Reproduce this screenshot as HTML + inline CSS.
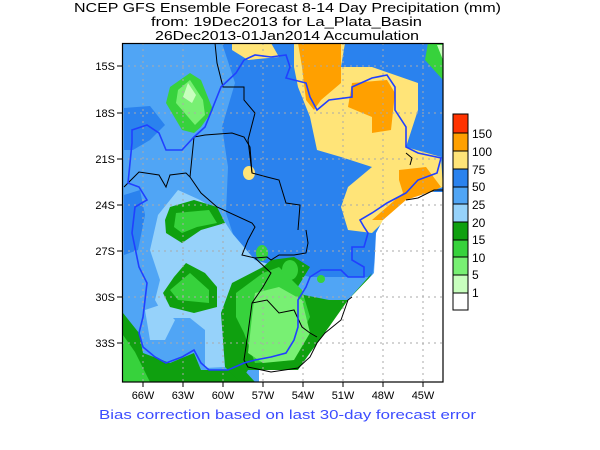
<!DOCTYPE html>
<html><head><style>
body{margin:0;background:#fff;}
svg{display:block;font-family:"Liberation Sans",sans-serif;}
</style></head><body>
<svg width="600" height="450" viewBox="0 0 600 450">
<defs><clipPath id="c"><rect x="122" y="43" width="321" height="339"/></clipPath></defs>
<g font-size="13" fill="#000">
<text x="74" y="12" textLength="427" lengthAdjust="spacingAndGlyphs">NCEP GFS Ensemble Forecast 8-14 Day Precipitation (mm)</text>
<text x="151" y="26" textLength="271" lengthAdjust="spacingAndGlyphs">from: 19Dec2013   for La_Plata_Basin</text>
<text x="155" y="40" textLength="264" lengthAdjust="spacingAndGlyphs">26Dec2013-01Jan2014 Accumulation</text>
</g>
<g clip-path="url(#c)">
<rect x="122" y="43" width="321" height="339" fill="#50a5f5"/>
<polygon fill="#2a82ee" points="222,43 443,43 443,233 376,253 372,277 310,277 271,267 240,255 226,213 228,167 222,127 235,83"/>
<polygon fill="#2a82ee" points="124,108 150,106 165,125 150,140 133,150 124,150"/>
<polygon fill="#2a82ee" points="124,195 140,190 145,215 138,250 124,255"/>
<polygon fill="#ffe478" points="294,43 345,43 341,67 372,67 418,83 418,110 406,147 441,157 443,187 406,200 372,233 348,230 341,207 348,187 372,167 341,157 317,150 310,117 298,87 294,67"/>
<polygon fill="#ffe478" points="232,43 271,43 279,57 248,60 232,50"/>
<ellipse cx="249" cy="173" rx="6" ry="7" fill="#ffe478"/>
<polygon fill="#ffa000" points="298,43 341,43 341,83 321,100 314,110 306,100 302,67"/>
<polygon fill="#ffa000" points="352,83 387,80 395,93 391,130 372,133 372,117 348,107"/>
<polygon fill="#ffa000" points="399,170 426,167 441,187 418,200 383,220 372,220 403,193 399,180"/>
<polygon fill="#96d2fa" points="158,215 178,190 200,200 217,210 232,233 255,260 279,267 271,283 232,287 221,313 225,367 205,368 205,330 190,318 165,318 155,300 160,280 150,250"/>
<polygon fill="#96d2fa" points="145,310 160,305 175,320 165,340 150,340"/>
<polygon fill="#0fa00f" points="123,313 139,333 143,353 170,363 194,353 201,370 244,370 255,382 123,382"/>
<polygon fill="#37d23c" points="123,335 135,352 150,382 123,382"/>
<polygon fill="#0fa00f" points="232,283 263,267 271,260 294,257 310,267 294,293 329,300 348,300 372,273 348,317 329,330 310,353 298,370 248,370 240,382 225,367 221,313"/>
<polygon fill="#37d23c" points="236,293 263,273 279,267 302,290 310,317 302,333 294,360 255,363 244,333 236,317"/>
<polygon fill="#78f073" points="255,293 279,287 302,300 310,333 294,360 263,363 248,353 252,317"/>
<polygon fill="#0fa00f" points="170,207 194,200 217,207 225,223 201,230 182,243 166,233 165,220"/>
<polygon fill="#37d23c" points="176,213 209,210 217,223 197,227 182,233 174,227"/>
<polygon fill="#0fa00f" points="186,263 205,273 217,287 217,307 194,313 170,307 163,293 174,277"/>
<polygon fill="#37d23c" points="190,273 209,290 209,303 178,300 170,290"/>
<polygon fill="#37d23c" points="190,73 201,80 213,110 201,127 194,133 182,130 166,103 170,87"/>
<polygon fill="#78f073" points="190,80 203,100 205,115 195,125 176,103 178,90"/>
<polygon fill="#c8ffbe" points="188,83 196,95 192,103 183,97"/>
<ellipse cx="262" cy="253" rx="6" ry="8" fill="#37d23c"/>
<ellipse cx="290" cy="270" rx="8" ry="10" fill="#37d23c"/>
<circle cx="321" cy="279" r="4" fill="#37d23c"/>
<polygon fill="#37d23c" points="428,43 443,43 443,80 425,60"/>
<polygon fill="#c8ffbe" points="437,45 443,45 443,60"/>
<polygon fill="#fff" points="443,192 430,192 406,200 383,220 376,233 374,273 348,300 329,327 310,353 298,370 259,370 259,382 443,382"/>
<g stroke="#aaa" stroke-dasharray="2,4" stroke-width="1">
<line x1="143" y1="43" x2="143" y2="382"/><line x1="183" y1="43" x2="183" y2="382"/><line x1="223" y1="43" x2="223" y2="382"/><line x1="263" y1="43" x2="263" y2="382"/><line x1="303" y1="43" x2="303" y2="382"/><line x1="343" y1="43" x2="343" y2="382"/><line x1="383" y1="43" x2="383" y2="382"/><line x1="423" y1="43" x2="423" y2="382"/>
<line x1="122" y1="66" x2="443" y2="66"/><line x1="122" y1="113" x2="443" y2="113"/><line x1="122" y1="159" x2="443" y2="159"/><line x1="122" y1="205" x2="443" y2="205"/><line x1="122" y1="251" x2="443" y2="251"/><line x1="122" y1="297" x2="443" y2="297"/><line x1="122" y1="343" x2="443" y2="343"/>
</g>
<g fill="none" stroke="#000" stroke-width="1">
<polyline points="215,43 217,63 223,87 244,87 244,100 255,113 248,140 252,173 267,177 279,180 286,203 300,205 298,230"/>
<polyline points="190,177 194,137 205,135 232,133 244,137 250,147 252,173"/>
<polyline points="124,187 139,172 159,175 166,187 170,175 186,173 190,177"/>
<polyline points="190,177 201,193 217,207 252,223 255,227 248,240 242,255 255,258 267,257 271,260 279,255 294,255 306,253 308,243 306,230"/>
<polyline points="255,258 271,273 263,287 252,303 248,333 244,360 248,367 271,372 298,368 310,357 317,343 325,333 341,320 348,300 352,297"/>
<polyline points="252,303 267,300 279,313 294,310 302,327 310,333 317,337"/>
<polyline points="443,190 434,190 418,198 406,200"/>
<polyline points="406,153 412,158 410,165"/>
</g>
<polyline fill="none" stroke="#2040ff" stroke-width="1.6" points="244,60 255,55 271,57 286,55 290,67 286,78 306,83 310,97 317,110 329,100 352,97 352,87 372,78 387,75 395,87 395,110 406,127 406,147 418,153 441,158 437,173 418,180 406,193 387,203 372,213 360,220 364,227 368,233 364,247 352,247 352,260 364,267 364,277 348,277 341,270 321,270 310,277 306,287 298,300 298,327 294,340 286,353 271,357 255,360 244,363 228,370 209,370 201,363 194,350 182,357 166,363 155,357 143,347 139,333 143,317 147,283 139,267 132,233 135,207 147,200 139,187 128,183 132,143 132,130 147,125 159,133 166,150 182,150 194,137 205,127 213,107 221,87 236,73 244,60"/>
</g>
<rect x="122.5" y="43.5" width="320.5" height="338.5" fill="none" stroke="#000" stroke-width="1.2"/>
<g stroke="#000"><line x1="117" y1="66" x2="122" y2="66"/><line x1="117" y1="113" x2="122" y2="113"/><line x1="117" y1="159" x2="122" y2="159"/><line x1="117" y1="205" x2="122" y2="205"/><line x1="117" y1="251" x2="122" y2="251"/><line x1="117" y1="297" x2="122" y2="297"/><line x1="117" y1="343" x2="122" y2="343"/>
<line x1="143" y1="382" x2="143" y2="387"/><line x1="183" y1="382" x2="183" y2="387"/><line x1="223" y1="382" x2="223" y2="387"/><line x1="263" y1="382" x2="263" y2="387"/><line x1="303" y1="382" x2="303" y2="387"/><line x1="343" y1="382" x2="343" y2="387"/><line x1="383" y1="382" x2="383" y2="387"/><line x1="423" y1="382" x2="423" y2="387"/></g>
<g font-size="11" text-anchor="end"><text x="115" y="70">15S</text><text x="115" y="117">18S</text><text x="115" y="163">21S</text><text x="115" y="209">24S</text><text x="115" y="255">27S</text><text x="115" y="301">30S</text><text x="115" y="347">33S</text></g>
<g font-size="11" text-anchor="middle"><text x="143" y="399">66W</text><text x="183" y="399">63W</text><text x="223" y="399">60W</text><text x="263" y="399">57W</text><text x="303" y="399">54W</text><text x="343" y="399">51W</text><text x="383" y="399">48W</text><text x="423" y="399">45W</text></g>
<g stroke="#000" stroke-width="1">
<rect x="453" y="114" width="15" height="19" fill="#ff3300"/>
<rect x="453" y="133" width="15" height="18" fill="#ffa000"/>
<rect x="453" y="151" width="15" height="18" fill="#ffe478"/>
<rect x="453" y="169" width="15" height="18" fill="#2a82ee"/>
<rect x="453" y="187" width="15" height="17" fill="#50a5f5"/>
<rect x="453" y="204" width="15" height="18" fill="#96d2fa"/>
<rect x="453" y="222" width="15" height="18" fill="#0fa00f"/>
<rect x="453" y="240" width="15" height="17" fill="#37d23c"/>
<rect x="453" y="257" width="15" height="18" fill="#78f073"/>
<rect x="453" y="275" width="15" height="18" fill="#c8ffbe"/>
<rect x="453" y="293" width="15" height="17" fill="#fff"/>
</g>
<g font-size="12"><text x="472" y="138">150</text><text x="472" y="156">100</text><text x="472" y="174">75</text><text x="472" y="191">50</text><text x="472" y="209">25</text><text x="472" y="227">20</text><text x="472" y="244">15</text><text x="472" y="262">10</text><text x="472" y="279">5</text><text x="472" y="297">1</text></g>
<text x="99" y="419" font-size="13" fill="#3c4cff" textLength="377" lengthAdjust="spacingAndGlyphs">Bias correction based on last 30-day forecast error</text>
</svg>
</body></html>
